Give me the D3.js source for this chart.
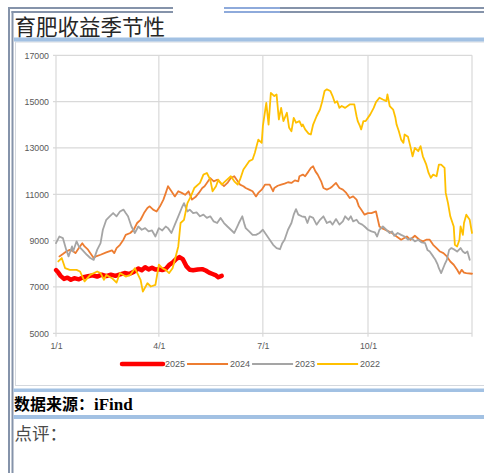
<!DOCTYPE html>
<html><head><meta charset="utf-8">
<script src="https://cdn.jsdelivr.net/npm/d3@7"></script>
<style>body{margin:0;background:#fff}svg{display:block}</style>
</head><body><svg id="c" width="484" height="473"></svg>
<script>
// ---- data (day offset from 1/1, value) ----
const yTicks = [5000, 7000, 9000, 11000, 13000, 15000, 17000];
const xTickLabels = ["1/1", "4/1", "7/1", "10/1"];
const seriesNames = ["2025", "2024", "2023", "2022"];

const s2025 = [[0,7730],[2,7620],[4,7480],[7,7350],[10,7400],[13,7310],[16,7380],[20,7330],[24,7420],[28,7460],[32,7500],[36,7450],[40,7530],[44,7470],[48,7530],[52,7480],[56,7540],[60,7600],[64,7560],[68,7650],[72,7800],[75,7720],[78,7850],[81,7760],[84,7830],[87,7750],[90,7760],[93,7730],[96,7780],[99,7950],[102,8050],[105,8200],[108,8290],[111,8200],[114,7900],[117,7740],[120,7720],[124,7750],[128,7770],[131,7710],[134,7620],[137,7560],[140,7500],[142,7420],[145,7480]];

const s2024 = [[3,8320],[6,8420],[9,8530],[12,8600],[15,8540],[17,8460],[20,8680],[23,8890],[25,8750],[28,8610],[31,8390],[33,8250],[35,8320],[39,8390],[44,8490],[49,8580],[51,8460],[53,8680],[56,8820],[59,9040],[61,9250],[65,9330],[68,9470],[71,9760],[74,9900],[77,10190],[80,10410],[82,10480],[85,10340],[88,10260],[91,10480],[94,10770],[96,11050],[98,11350],[101,11130],[104,10910],[107,11130],[110,11060],[113,10980],[116,11130],[119,10770],[122,10880],[125,11060],[128,11270],[130,11350],[132,11490],[135,11700],[138,11560],[141,11630],[144,11490],[147,11350],[150,11490],[153,11700],[156,11780],[159,11560],[161,11420],[164,11350],[166,11270],[169,11200],[172,11130],[175,10910],[177,11060],[180,11200],[183,11420],[187,11420],[190,11130],[191,11270],[194,11370],[197,11420],[200,11460],[203,11520],[206,11490],[209,11600],[212,11560],[213,11780],[216,11850],[218,11780],[221,11990],[223,12140],[225,12210],[227,11990],[229,11850],[232,11560],[234,11270],[237,11200],[240,11270],[242,11350],[245,11490],[248,11270],[251,11200],[254,11060],[257,10840],[260,10910],[263,10770],[265,10480],[267,10340],[270,10120],[273,10190],[276,10190],[280,10260],[283,9610],[285,9540],[288,9470],[291,9400],[294,9330],[298,9180],[302,9040],[307,9180],[310,9040],[314,9210],[318,9040],[321,8970],[324,9040],[327,9040],[330,8820],[333,8680],[336,8530],[339,8460],[342,8320],[345,8100],[348,7960],[351,7740],[353,7570],[355,7740],[357,7620],[359,7600],[364,7570]];

const s2023 = [[0,8890],[3,9180],[6,9110],[9,8600],[11,8320],[14,8750],[15,8530],[18,8970],[20,8750],[23,8600],[27,8390],[30,8250],[33,8170],[36,8600],[39,8890],[41,9470],[44,9900],[47,10050],[50,10190],[53,10050],[56,10260],[59,10340],[61,10190],[63,10050],[66,9610],[69,9330],[72,9610],[75,9470],[78,9540],[81,9400],[84,9440],[87,9180],[90,9540],[93,9440],[96,9610],[98,9540],[101,9330],[104,9690],[107,10050],[110,10410],[112,10620],[115,10260],[117,10340],[120,10190],[123,10220],[126,10050],[129,10120],[132,9980],[135,10050],[138,9830],[141,9760],[144,9980],[147,9760],[150,9610],[153,9470],[156,9330],[158,9540],[160,9760],[163,10050],[165,9690],[166,9540],[169,9400],[172,9250],[175,9250],[178,9330],[181,9470],[184,9250],[187,9040],[190,8820],[193,8680],[196,8630],[198,8890],[200,9040],[203,9470],[206,9760],[208,10120],[210,10360],[212,10120],[215,10050],[218,10020],[220,9760],[222,10050],[225,9980],[228,9690],[231,9900],[234,10050],[237,9760],[240,9830],[242,9690],[245,9930],[248,9690],[251,9830],[253,10050],[256,9900],[258,10050],[260,9830],[263,9900],[265,9760],[268,9690],[270,9610],[273,9470],[276,9400],[279,9360],[281,9180],[283,9470],[286,9610],[289,9470],[292,9330],[294,9400],[296,9210],[299,9330],[302,9250],[305,9180],[308,9040],[311,9110],[314,8970],[317,9040],[320,8920],[323,8890],[325,8600],[327,8530],[330,8320],[332,8170],[334,7960],[335,7810],[337,7600],[340,7960],[342,8170],[344,8600],[346,8680],[349,8600],[351,8530],[354,8680],[356,8530],[358,8460],[360,8530],[362,8170]];

const s2022 = [[2,8100],[5,8250],[8,7810],[12,7740],[18,7740],[21,7670],[25,7240],[30,7520],[36,7670],[39,7600],[42,7310],[44,7520],[49,7380],[53,7190],[56,7600],[61,7450],[65,7520],[69,7810],[74,7310],[76,6800],[80,7160],[83,7020],[87,7090],[90,7960],[93,7810],[96,7740],[99,7600],[102,7810],[104,8170],[107,8750],[109,9760],[112,9900],[115,10620],[118,10910],[121,11270],[126,11490],[129,11850],[132,11920],[135,11630],[137,11130],[140,11350],[142,11630],[145,11420],[148,11560],[153,11780],[156,11560],[159,11420],[161,11630],[164,12070],[166,12210],[169,12430],[172,12500],[174,12790],[177,13360],[180,13220],[181,13940],[184,14950],[186,14010],[188,15380],[191,15240],[193,15310],[195,14230],[197,14730],[199,14160],[202,14520],[204,13870],[206,13720],[208,14300],[210,14090],[213,14160],[215,13940],[216,14010],[218,13800],[221,13620],[223,13580],[225,14010],[228,14370],[231,14660],[233,15020],[235,15460],[237,15530],[240,15460],[242,15240],[244,14950],[246,15020],[248,14730],[250,14810],[253,14730],[257,14880],[261,14880],[263,14370],[264,14160],[266,13940],[267,13800],[269,14160],[271,14160],[275,14450],[278,14730],[280,14980],[283,15170],[286,15090],[289,15020],[290,15310],[292,14810],[295,14660],[297,14300],[298,14010],[300,13720],[302,13360],[304,13220],[305,13580],[308,13480],[310,13080],[312,12640],[314,13000],[317,12860],[319,13080],[321,12640],[324,12280],[326,11920],[328,11710],[330,11850],[333,11780],[335,12280],[337,12280],[340,12140],[341,11060],[343,10620],[345,10050],[348,9610],[349,8820],[351,8750],[353,9040],[354,9610],[356,9250],[357,9760],[359,10120],[362,9900],[364,9330]];

// ---- styles ----
const allSeries = [s2025, s2024, s2023, s2022];
const colors = {"2025": "#ff0000", "2024": "#ed7d31", "2023": "#a5a5a5", "2022": "#ffc000"};
const widths = {"2025": 4.5, "2024": 1.8, "2023": 1.8, "2022": 1.8};
const cjk = "'Noto Sans CJK SC','Noto Sans',sans-serif";

const svg = d3.select("#c");
svg.append("rect").attr("width", 484).attr("height", 473).attr("fill", "#fff");

// ---- document frame ----
const frame = "#8593aa";
svg.append("rect").attr("x", 8).attr("y", 7).attr("width", 2).attr("height", 466).attr("fill", frame);
svg.append("rect").attr("x", 11.5).attr("y", 11).attr("width", 2).attr("height", 462).attr("fill", frame);
svg.append("rect").attr("x", 8).attr("y", 7).attr("width", 165).attr("height", 2).attr("fill", frame);
svg.append("rect").attr("x", 11.5).attr("y", 11).attr("width", 161.5).attr("height", 2).attr("fill", frame);
svg.append("rect").attr("x", 224).attr("y", 7).attr("width", 260).attr("height", 2).attr("fill", frame);
svg.append("rect").attr("x", 224).attr("y", 11).attr("width", 260).attr("height", 2).attr("fill", frame);
svg.append("rect").attr("x", 224).attr("y", 7).attr("width", 56).attr("height", 6).attr("fill", "#8eaadb");
svg.append("rect").attr("x", 224).attr("y", 9).attr("width", 56).attr("height", 2).attr("fill", "#fff");

svg.append("text").attr("x", 14.5).attr("y", 34.5)
  .attr("font-family", cjk).attr("font-size", 21.5).attr("fill", "#262626")
  .text("育肥收益季节性");

// chart box
svg.append("rect").attr("x", 15.5).attr("y", 42).attr("width", 470).attr("height", 343.5)
  .attr("fill", "#fff").attr("stroke", "#d4d8de").attr("stroke-width", 1);
svg.append("rect").attr("x", 14).attr("y", 37.5).attr("width", 470).attr("height", 4).attr("fill", "#a2c1e3");
svg.append("rect").attr("x", 13.5).attr("y", 388.5).attr("width", 471).attr("height", 3.5).attr("fill", "#a2c1e3");
svg.append("rect").attr("x", 13.5).attr("y", 415).attr("width", 471).attr("height", 4).attr("fill", "#a2c1e3");

const src = svg.append("text").attr("x", 14).attr("y", 410)
  .attr("font-family", cjk).attr("font-size", 16).attr("font-weight", "bold").attr("fill", "#000");
src.append("tspan").text("数据来源：");
src.append("tspan").attr("font-family", "'Liberation Serif',serif").attr("font-size", 17).text("iFind");

svg.append("text").attr("x", 14.5).attr("y", 440)
  .attr("font-family", cjk).attr("font-size", 17.5).attr("fill", "#4a4a4a")
  .text("点评：");

// ---- chart ----
const base = new Date(2023, 0, 1);
const toDate = d => d3.timeDay.offset(base, d);
const x = d3.scaleTime().domain([base, new Date(2023, 11, 31)]).range([56, 472]);
const y = d3.scaleLinear().domain([5000, 17000]).range([333.3, 55.3]);
const grid = "#d9d9d9";

const xTickDates = xTickLabels.map(s => { const [m, d] = s.split("/").map(Number); return new Date(2023, m - 1, d); });

const g = svg.append("g");
// horizontal gridlines
g.selectAll("line.h").data(yTicks).join("line")
  .attr("x1", x.range()[0] - 3).attr("x2", x.range()[1])
  .attr("y1", d => y(d)).attr("y2", d => y(d))
  .attr("stroke", grid).attr("stroke-width", 1.2);
// vertical gridlines incl. right edge
g.selectAll("line.v").data(xTickDates.concat([x.domain()[1]])).join("line")
  .attr("x1", d => x(d)).attr("x2", d => x(d))
  .attr("y1", y.range()[1]).attr("y2", y.range()[0] + 3.5)
  .attr("stroke", grid).attr("stroke-width", 1.2);

// y axis labels
const yAxis = d3.axisLeft(y).tickValues(yTicks).tickSize(0).tickPadding(6).tickFormat(d3.format("d"));
const ya = svg.append("g").attr("transform", `translate(${x.range()[0] - 1},0)`).call(yAxis);
ya.select(".domain").remove();
ya.selectAll("text").attr("font-family", "'Liberation Sans',Arial,sans-serif").attr("font-size", 8.8).attr("fill", "#595959");

// x axis labels
const xAxis = d3.axisBottom(x).tickValues(xTickDates).tickSize(0).tickPadding(9)
  .tickFormat((d, i) => xTickLabels[i]);
const xa = svg.append("g").attr("transform", `translate(0,${y.range()[0]})`).call(xAxis);
xa.select(".domain").remove();
xa.selectAll("text").attr("font-family", "'Liberation Sans',Arial,sans-serif").attr("font-size", 8.8).attr("fill", "#595959");

// lines
const line = d3.line().x(d => x(toDate(d[0]))).y(d => y(d[1])).curve(d3.curveLinear);
seriesNames.forEach((name, i) => {
  svg.append("path").datum(allSeries[i])
    .attr("d", line).attr("fill", "none")
    .attr("stroke", colors[name]).attr("stroke-width", widths[name])
    .attr("stroke-linejoin", "round").attr("stroke-linecap", "round");
});

// legend
const lg = svg.append("g").attr("transform", "translate(122,364)");
let lx = 0;
seriesNames.forEach(name => {
  lg.append("line").attr("x1", lx).attr("x2", lx + 41).attr("y1", 0).attr("y2", 0)
    .attr("stroke", colors[name]).attr("stroke-width", widths[name])
    .attr("stroke-linecap", name === "2025" ? "round" : "butt");
  const t = lg.append("text").attr("x", lx + 43).attr("y", 3.2)
    .attr("font-family", "'Liberation Sans',Arial,sans-serif").attr("font-size", 9).attr("fill", "#595959")
    .text(name);
  lx += 43 + t.node().getComputedTextLength() + 2;
});
</script></body></html>
